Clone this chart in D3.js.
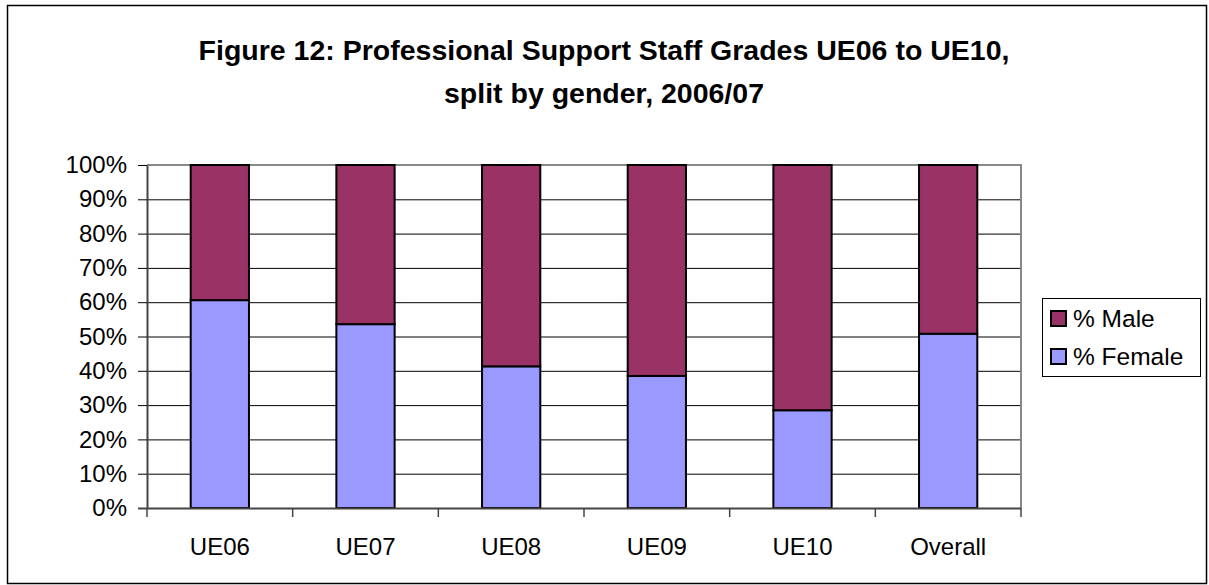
<!DOCTYPE html>
<html>
<head>
<meta charset="utf-8">
<script src="https://cdn.jsdelivr.net/npm/d3@7"></script>
<style>
  body { margin: 0; background: #fff; }
  text { font-family: "Liberation Sans", Arial, sans-serif; }
</style>
</head>
<body>
<div id="chart"></div>
<script>
// data
var categories = ["UE06", "UE07", "UE08", "UE09", "UE10", "Overall"];
var female = [60.6, 53.6, 41.3, 38.5, 28.5, 50.8];
var male = female.map(f => 100 - f);
var yTicks = [0, 10, 20, 30, 40, 50, 60, 70, 80, 90, 100];
var seriesNames = ["% Male", "% Female"];
var seriesColors = ["#993366", "#9999FF"];

var W = 1209, H = 585;
var margin = {top: 165, right: 188, bottom: 77, left: 147};
var width = W - margin.left - margin.right;
var height = H - margin.top - margin.bottom;

var svg_container = d3.select("#chart")
    .append("svg")
        .attr("width", W)
        .attr("height", H);

// outer frame
svg_container.append("rect")
    .attr("x", 7.5).attr("y", 5.5)
    .attr("width", 1199).attr("height", 578)
    .attr("fill", "none").attr("stroke", "#000").attr("stroke-width", 1.5);

// title
var title = svg_container.append("text")
    .attr("text-anchor", "middle")
    .attr("font-weight", "bold")
    .attr("font-size", 28.5);
title.append("tspan").attr("x", 604).attr("y", 60)
    .text("Figure 12: Professional Support Staff Grades UE06 to UE10,");
title.append("tspan").attr("x", 604).attr("y", 103)
    .text("split by gender, 2006/07");

var svg = svg_container.append("g")
    .attr("transform", "translate(" + margin.left + "," + margin.top + ")");

var x = d3.scaleBand().domain(categories).range([0, width]).paddingInner(0.6).paddingOuter(0.3);
var y = d3.scaleLinear().domain([0, 100]).range([height, 0]);

// gridlines
svg.selectAll("line.grid")
    .data(yTicks.slice(1, -1))
    .enter().append("line")
    .attr("class", "grid")
    .attr("x1", 0).attr("x2", width)
    .attr("y1", d => y(d) + 0.5).attr("y2", d => y(d) + 0.5)
    .attr("stroke", "#000").attr("stroke-width", 1);

// plot frame top/right
svg.append("path")
    .attr("d", "M0," + y(100) + "H" + width + "V" + height)
    .attr("fill", "none").attr("stroke", "#888").attr("stroke-width", 2);

// stacked bars: female at the bottom, male on top
var stacks = [
    {vals: female, base: female.map(() => 0), color: seriesColors[1]},
    {vals: male, base: female, color: seriesColors[0]}
];
stacks.forEach(function(s){
    svg.selectAll(null)
        .data(categories)
        .enter().append("rect")
        .attr("x", d => x(d))
        .attr("width", x.bandwidth())
        .attr("y", (d,i) => y(s.base[i] + s.vals[i]))
        .attr("height", (d,i) => y(s.base[i]) - y(s.base[i] + s.vals[i]))
        .attr("fill", s.color)
        .attr("stroke", "#000")
        .attr("stroke-width", 2);
});

// y axis
var yAxis = svg.append("g")
    .call(d3.axisLeft(y).tickValues(yTicks).tickFormat(d => d + "%").tickSize(9).tickSizeOuter(0));
yAxis.select(".domain").attr("stroke", "#444").attr("stroke-width", 2);
yAxis.selectAll(".tick line").attr("stroke", "#000");
yAxis.selectAll("text").attr("font-size", 24).attr("fill", "#000").attr("dx", "-8");

// x axis with ticks between categories
var xAxis = svg.append("g").attr("transform", "translate(0," + height + ")");
xAxis.append("line").attr("x1", -9).attr("x2", width)
    .attr("y1", 0.5).attr("y2", 0.5).attr("stroke", "#444").attr("stroke-width", 2);
xAxis.selectAll("line.tk")
    .data(d3.range(categories.length + 1))
    .enter().append("line")
    .attr("x1", i => i * width / categories.length).attr("x2", i => i * width / categories.length)
    .attr("y1", 0).attr("y2", 9)
    .attr("stroke", "#444").attr("stroke-width", 1.5);
xAxis.selectAll("text")
    .data(categories)
    .enter().append("text")
    .attr("x", d => x(d) + x.bandwidth() / 2)
    .attr("y", 47)
    .attr("text-anchor", "middle")
    .attr("font-size", 24)
    .text(d => d);

// legend
var legend = svg_container.append("g").attr("transform", "translate(1042,298)");
legend.append("rect")
    .attr("x", 0.5).attr("y", 0.5).attr("width", 158).attr("height", 78)
    .attr("fill", "#fff").attr("stroke", "#000").attr("stroke-width", 1);
var items = legend.selectAll("g.item")
    .data(seriesNames)
    .enter().append("g")
    .attr("transform", (d,i) => "translate(9," + (20 + i * 38) + ")");
items.append("rect")
    .attr("x", 0).attr("y", -7).attr("width", 15).attr("height", 15)
    .attr("fill", (d,i) => seriesColors[i])
    .attr("stroke", "#000").attr("stroke-width", 2);
items.append("text")
    .attr("x", 22).attr("y", 9)
    .attr("font-size", 24.5)
    .text(d => d);
</script>
</body>
</html>
